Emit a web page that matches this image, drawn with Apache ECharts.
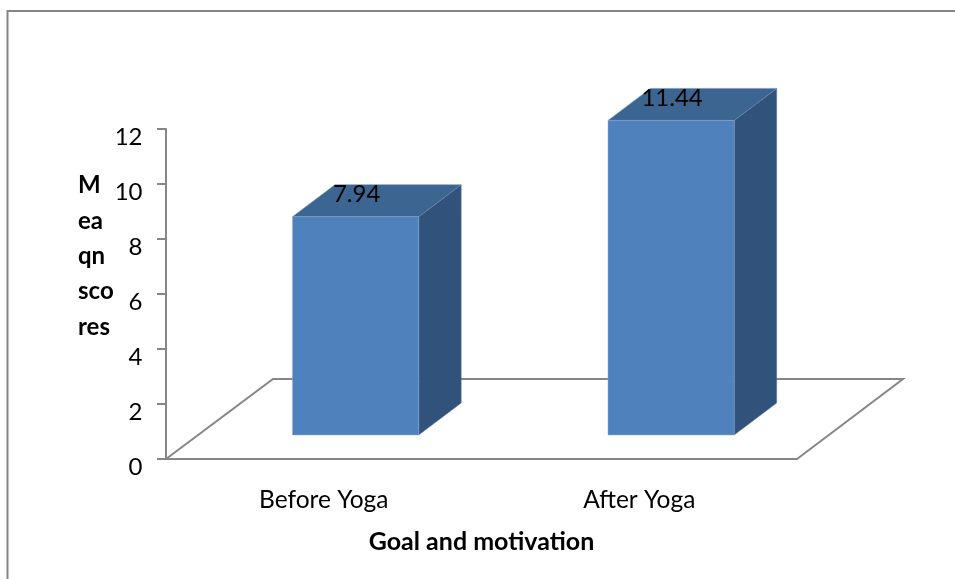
<!DOCTYPE html>
<html>
<head>
<meta charset="utf-8">
<style>html,body{margin:0;padding:0;background:#fff}#chart{width:955px;height:579px}</style>
<script src="https://cdn.jsdelivr.net/npm/echarts@6/dist/echarts.min.js"></script>
</head>
<body>
<div id="chart"></div>
<script>
// Mean scores before and after the yoga programme
const categories = ['Before Yoga', 'After Yoga'];
const meanScores = [7.94, 11.44];
const yTickValues = [0, 2, 4, 6, 8, 10, 12];
const yAxisTitleLines = ['M', 'ea', 'qn', 'sco', 'res'];
const xAxisTitle = 'Goal and motivation';

const FONT = 'Lato, "Open Sans", sans-serif';
const GREY = '#868686';
// Oblique projection of the box depth on screen
const FLOOR_DX = 107, FLOOR_DY = 80;
const BOX_DX = 42.5, BOX_DY = 32, BOX_LIFT = 24;

function renderFloor(params, api) {
  const a = api.coord([0, 0]);
  const size = api.size([1, 0]);
  const left = a[0] - size[0] / 2, right = left + size[0] * categories.length, y = a[1];
  return {
    type: 'polyline',
    shape: { points: [[left, y], [left + FLOOR_DX, y - FLOOR_DY], [right + FLOOR_DX - 1, y - FLOOR_DY], [right, y]] },
    style: { stroke: GREY, fill: null, lineWidth: 2 }
  };
}

function renderBox(params, api) {
  const i = api.value(0), v = api.value(1);
  const base = api.coord([i, 0]), top = api.coord([i, v]);
  const band = api.size([1, 0])[0];
  const w = band * 0.4;
  const x0 = base[0] - band * 0.1 + 0.3, x1 = x0 + w;
  const yb = base[1] - BOX_LIFT, yt = top[1] - BOX_LIFT;
  return {
    type: 'group',
    children: [
      { type: 'polygon', shape: { points: [[x1, yt], [x1 + BOX_DX, yt - BOX_DY], [x1 + BOX_DX, yb - BOX_DY], [x1, yb]] },
        style: { fill: '#31527a', stroke: '#5f7d9f', lineWidth: 0.5 } },
      { type: 'polygon', shape: { points: [[x0, yt], [x0 + BOX_DX, yt - BOX_DY], [x1 + BOX_DX, yt - BOX_DY], [x1, yt]] },
        style: { fill: '#3c6591', stroke: '#6d8cb0', lineWidth: 0.5 } },
      { type: 'rect', shape: { x: x0, y: yt, width: w, height: yb - yt },
        style: { fill: '#4f81bd', stroke: '#8aa9d0', lineWidth: 0.5 } },
      { type: 'text', x: x0 + w / 2 + 1, y: yt - 22,
        style: { text: String(v), font: '24px ' + FONT, fill: '#000', align: 'center', verticalAlign: 'middle' } }
    ]
  };
}

const chart = echarts.init(document.getElementById('chart'), null, { renderer: 'canvas' });
chart.setOption({
  animation: false,
  backgroundColor: '#fff',
  graphic: [
    {
      type: 'polyline',
      silent: true,
      shape: { points: [[7.5, 579], [7.5, 11], [955, 11]] },
      style: { stroke: GREY, fill: null, lineWidth: 2 }
    },
    {
      type: 'text',
      silent: true,
      x: 78,
      y: 168,
      style: {
        text: yAxisTitleLines.join('\n'),
        font: 'bold 24px ' + FONT,
        fill: '#000',
        lineHeight: 35.3,
        align: 'left',
        verticalAlign: 'top'
      }
    }
  ],
  grid: { left: 166, right: 158, top: 129, bottom: 120, containLabel: false },
  xAxis: {
    type: 'category',
    data: categories,
    axisLine: { lineStyle: { color: GREY, width: 2 } },
    axisTick: { show: false },
    axisLabel: { color: '#000', fontFamily: FONT, fontSize: 24.5, margin: 29 },
    name: xAxisTitle,
    nameLocation: 'middle',
    nameGap: 70,
    nameTextStyle: { color: '#000', fontFamily: FONT, fontSize: 25, fontWeight: 'bold' }
  },
  yAxis: {
    type: 'value',
    min: yTickValues[0],
    max: yTickValues[yTickValues.length - 1],
    interval: yTickValues[1] - yTickValues[0],
    splitLine: { show: false },
    axisLine: { show: true, lineStyle: { color: GREY, width: 2 } },
    axisTick: { show: true, length: 9, lineStyle: { color: GREY, width: 2 } },
    axisLabel: { color: '#000', fontFamily: FONT, fontSize: 24, margin: 23.5, verticalAlign: 'top', lineHeight: 16 }
  },
  series: [
    { type: 'custom', renderItem: renderFloor, data: [[0, 0]], clip: false, z: 1, silent: true },
    { type: 'custom', renderItem: renderBox, data: categories.map((c, i) => [i, meanScores[i]]), clip: false, z: 3,
      encode: { x: 0, y: 1 } }
  ]
});
</script>
</body>
</html>
